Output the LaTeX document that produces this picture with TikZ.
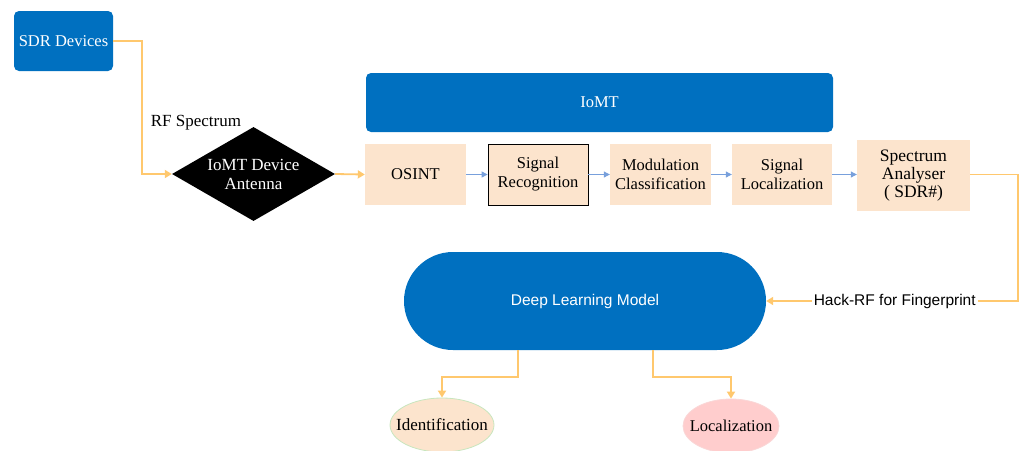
\documentclass[tikz,border=0pt]{standalone}
\usepackage{fontspec}
\setmainfont{Liberation Serif}
\setsansfont{Liberation Sans}
\usetikzlibrary{shapes.geometric,arrows.meta}
\definecolor{mblue}{RGB}{0,112,192}
\definecolor{peach}{RGB}{252,228,205}
\definecolor{oline}{RGB}{255,200,110}
\definecolor{bline}{RGB}{120,160,220}
\definecolor{pinkf}{RGB}{255,205,205}
\definecolor{pinkd}{RGB}{250,215,215}
\definecolor{greend}{RGB}{200,230,190}
\tikzset{
  serif16/.style={font=\fontsize{16.5}{19}\selectfont},
  bluebox/.style={rectangle, rounded corners=5pt, fill=mblue, text=white, inner sep=0pt, serif16},
  peachbox/.style={rectangle, fill=peach, inner sep=0pt, align=center, serif16},
  orangeline/.style={draw=oline, line width=1.8pt, -{Triangle[length=7pt,width=8pt]}},
  blueline/.style={draw=bline, line width=1pt, -{Triangle[length=6pt,width=6pt]}},
  outcome/.style={ellipse, line width=0.8pt, minimum width=#1, minimum height=54pt, inner sep=0pt},
}
\begin{document}
\begin{tikzpicture}[x=1pt,y=-1pt]
\useasboundingbox (0,0) rectangle (1024,450);
\node[bluebox, minimum width=99pt, minimum height=60pt] (sdr) at (63.5,41) {SDR Devices};
\node[bluebox, minimum width=467pt, minimum height=59pt] (iomt) at (599.5,102.5) {IoMT};
\node[diamond, fill=black, text=white, minimum width=163pt, minimum height=94pt, aspect=1.73, inner sep=0pt, align=center, font=\fontsize{17}{19}\selectfont] (ant) at (253.5,174) {IoMT Device\\Antenna};
\node[font=\fontsize{17}{19}\selectfont, inner sep=0pt] (rf) at (196,123) {RF Spectrum};
\node[peachbox, minimum width=101pt, minimum height=61pt] (osint) at (415.5,174.5) {OSINT};
\node[peachbox, draw=black, line width=0.8pt, minimum width=100pt, minimum height=61pt] (sig) at (538,174.5) {Signal\\Recognition};
\node[peachbox, minimum width=101pt, minimum height=61pt] (mod) at (660.5,174.5) {Modulation\\Classification};
\node[peachbox, minimum width=100pt, minimum height=61pt] (sloc) at (782,174.5) {Signal\\Localization};
\node[peachbox, minimum width=113pt, minimum height=71pt, font=\fontsize{17.5}{18}\selectfont] (spec) at (913.5,175.5) {Spectrum\\Analyser\\( SDR\#)};
\node[rectangle, rounded corners=49pt, fill=mblue, text=white, minimum width=362pt, minimum height=98pt, inner sep=0pt, font=\sffamily\fontsize{15.5}{18}\selectfont] (dl) at (585,301) {Deep Learning Model};
\node[outcome=104pt, fill=peach, draw=greend] (ident) at (442,425) {};
\node[font=\fontsize{17}{19}\selectfont, inner sep=0pt] (identtxt) at (ident.center) {Identification};
\node[outcome=96pt, fill=pinkf, draw=pinkd] (locz) at (731,426) {};
\node[font=\fontsize{16.5}{19}\selectfont, inner sep=0pt] (locztxt) at (locz.center) {Localization};

\draw[orangeline] (sdr.east) -- ++(29,0) |- (ant.west);
\draw[orangeline] (ant.east) -- (osint.west);
\draw[blueline] (osint) -- (sig);
\draw[blueline] (sig) -- (mod);
\draw[blueline] (mod) -- (sloc);
\draw[blueline] (sloc.east) -- (sloc.east -| spec.west);
\draw[orangeline] (spec.east |- sloc.east) -- ++(48,0) |- (dl.east)
  node[pos=0.745, fill=white, inner sep=2pt, font=\sffamily\fontsize{15.5}{18}\selectfont] (hack) {Hack-RF for Fingerprint};
\draw[orangeline] ([xshift=-67pt]dl.south) -- ++(0,27) -| (ident.north);
\draw[orangeline] ([xshift=68pt]dl.south) -- ++(0,27) -| (locz.north);
\end{tikzpicture}
\end{document}
